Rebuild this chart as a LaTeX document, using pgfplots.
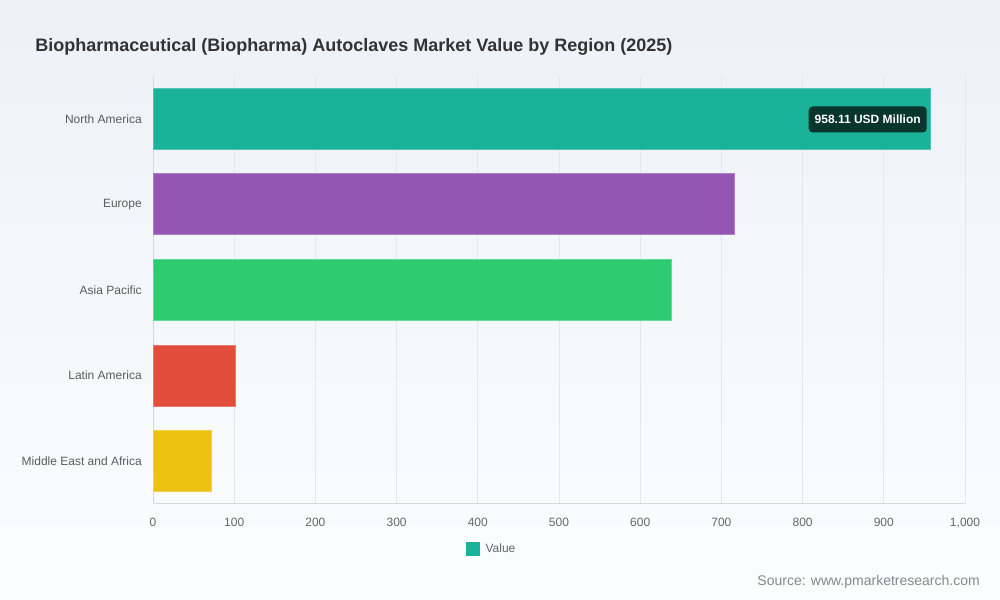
\documentclass[border=0pt]{standalone}
\usepackage{fontspec}
\setmainfont{Liberation Sans}
\usepackage{pgfplots}
\pgfplotsset{compat=1.18}
\definecolor{bgtop}{HTML}{EDF1F8}
\definecolor{bgbot}{HTML}{FCFDFE}
\definecolor{cNA}{HTML}{1AB39A}
\definecolor{cEU}{HTML}{9356B3}
\definecolor{cAP}{HTML}{2ECC71}
\definecolor{cLA}{HTML}{E24C3B}
\definecolor{cME}{HTML}{ECC10F}
\definecolor{titlec}{HTML}{333333}
\definecolor{gridc}{HTML}{E3E8EF}
\definecolor{axisc}{HTML}{D6D9DE}
\definecolor{lblc}{HTML}{08352C}
\definecolor{tickc}{HTML}{666666}
\definecolor{srcc}{HTML}{888888}
\begin{document}
\begin{tikzpicture}
\shade[top color=bgtop, bottom color=bgbot] (0,0) rectangle (750pt,450pt);
\node[anchor=west, font=\fontsize{13.5}{16}\selectfont\bfseries, text=titlec, inner sep=0] at (26.25pt,414.5pt) {Biopharmaceutical (Biopharma) Autoclaves Market Value by Region (2025)};
\node[anchor=east, font=\fontsize{10.5}{12}\selectfont, text=srcc, inner sep=0] at (735pt,13.5pt) {Source: www.pmarketresearch.com};
\begin{axis}[
  at={(114.75pt,72pt)}, anchor=south west,
  scale only axis, width=609pt, height=321pt,
  xmin=0, xmax=1000, ymin=-0.5, ymax=4.5,
  xbar, bar width=45.75pt,
  ytick={0,1,2,3,4},
  yticklabels={Middle East and Africa, Latin America, Asia Pacific, Europe, North America},
  xtick={0,100,...,1000},
  /pgf/number format/assume math mode=true,
  /pgf/number format/1000 sep={,},
  xticklabel style={font=\fontsize{9}{10}\selectfont, text=tickc, inner sep=0, anchor=north, yshift=-10.5pt},
  yticklabel style={font=\fontsize{9}{10}\selectfont, text=tickc!90!black, inner sep=0, anchor=east, xshift=-8.25pt},
  major tick length=0pt,
  xmajorgrids, grid style={draw=gridc, line width=0.75pt},
  axis x line*=bottom, axis y line*=left,
  axis line style={-, draw=axisc, line width=0.75pt},
  legend style={draw=none, fill=none, at={(0.4175,-0.105)}, anchor=center, font=\fontsize{9}{10}\selectfont, text=tickc},
  legend image code/.code={\fill[cNA] (0pt,-4.9pt) rectangle (9.75pt,4.9pt); \path (12pt,0pt);},
]
\addplot[bar shift=0pt, fill=cNA, draw=cNA!75!white, line width=0.75pt] coordinates {(958.11,4)};
\addlegendentry{Value}
\addplot[forget plot, bar shift=0pt, fill=cEU, draw=cEU!75!white, line width=0.75pt] coordinates {(716.5,3)};
\addplot[forget plot, bar shift=0pt, fill=cAP, draw=cAP!75!white, line width=0.75pt] coordinates {(639.0,2)};
\addplot[forget plot, bar shift=0pt, fill=cLA, draw=cLA!75!white, line width=0.75pt] coordinates {(101.5,1)};
\addplot[forget plot, bar shift=0pt, fill=cME, draw=cME!75!white, line width=0.75pt] coordinates {(72.0,0)};
\node[fill=lblc, rounded corners=3pt, text=white, font=\fontsize{9}{10}\selectfont\bfseries, anchor=east, inner xsep=4.5pt, minimum height=19.5pt] at (axis cs:958.11,4) [xshift=-3pt, yshift=-0.5pt] {958.11 USD Million};
\end{axis}
\end{tikzpicture}
\end{document}
